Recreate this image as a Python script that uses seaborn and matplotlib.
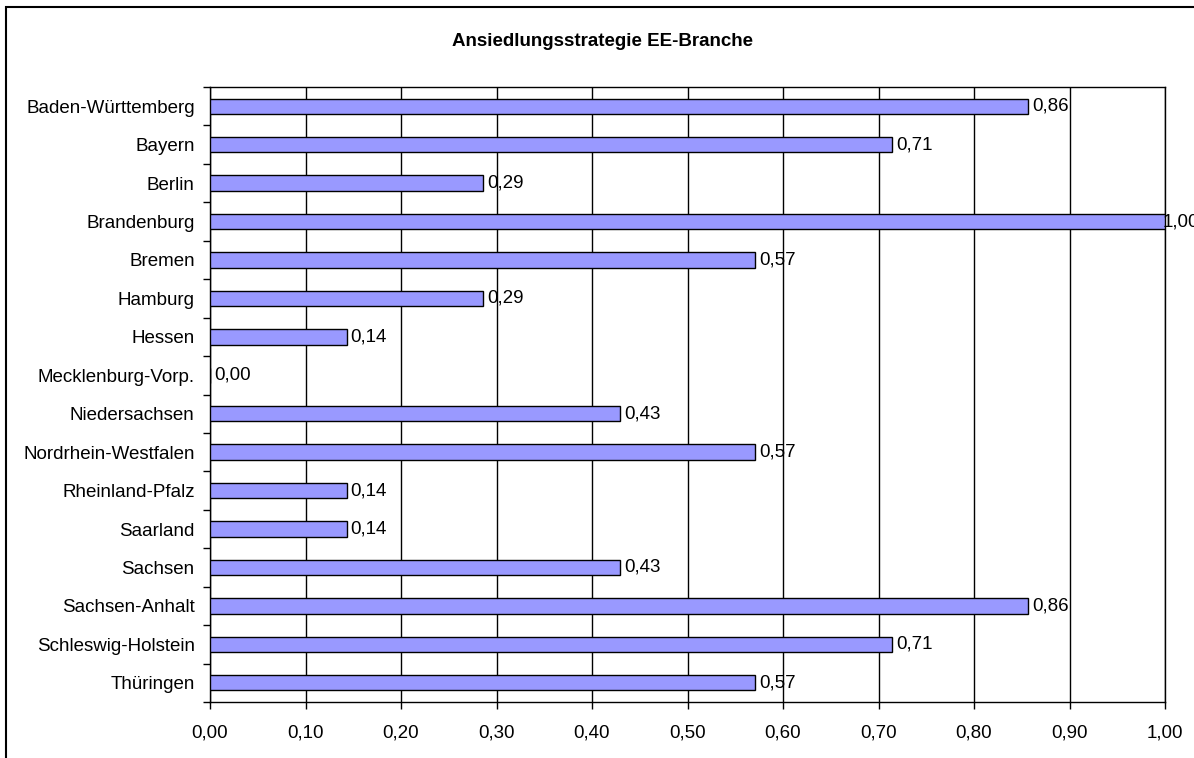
import numpy as np
import pandas as pd
import matplotlib
matplotlib.use("Agg")
import matplotlib.pyplot as plt
from matplotlib.patches import Rectangle
from matplotlib.ticker import MultipleLocator, FuncFormatter
import seaborn as sns

# Data
laender = ["Baden-Württemberg", "Bayern", "Berlin", "Brandenburg", "Bremen",
           "Hamburg", "Hessen", "Mecklenburg-Vorp.", "Niedersachsen",
           "Nordrhein-Westfalen", "Rheinland-Pfalz", "Saarland", "Sachsen",
           "Sachsen-Anhalt", "Schleswig-Holstein", "Thüringen"]
werte = [0.857, 0.714, 0.286, 1.00, 0.571, 0.286, 0.143, 0.00, 0.429,
         0.571, 0.143, 0.143, 0.429, 0.857, 0.714, 0.571]
titel = "Ansiedlungsstrategie EE-Branche"

df = pd.DataFrame({"land": laender, "wert": werte})

sns.set_style("white")
plt.rcParams["font.family"] = ["Liberation Sans", "DejaVu Sans"]
plt.rcParams["text.color"] = "black"
plt.rcParams["xtick.color"] = "black"
plt.rcParams["ytick.color"] = "black"

fig = plt.figure(figsize=(11.94, 7.58), dpi=100)
ax = fig.add_axes([210 / 1194, 1 - 702 / 758, (1165 - 210) / 1194, (702 - 87) / 758])

# Plot
sns.barplot(data=df, y="land", x="wert", orient="h", color="#9999FF",
            saturation=1, width=0.4, edgecolor="black", linewidth=1, ax=ax, zorder=3)

ax.set_xlim(0, 1)
ax.set_ylim(len(laender) - 0.5, -0.5)
ax.xaxis.set_major_locator(MultipleLocator(0.1))
ax.xaxis.set_major_formatter(FuncFormatter(lambda v, p: f"{v:.2f}".replace(".", ",")))
ax.grid(axis="x", color="black", linewidth=1, zorder=0)
ax.grid(axis="y", visible=False)
ax.set_xlabel("")
ax.set_ylabel("")

# y ticks: labels at categories, marks at the boundaries
ax.set_yticks(np.arange(len(laender)))
ax.set_yticks(np.arange(len(laender) + 1) - 0.5, minor=True)
ax.tick_params(axis="y", which="major", length=0, pad=11, labelsize=13.5, labelcolor="black")
ax.tick_params(axis="y", which="minor", length=5, width=1, color="black", direction="out", left=True)
ax.tick_params(axis="x", which="major", length=5, width=1, color="black", direction="out",
               bottom=True, pad=11, labelsize=13.5, labelcolor="black")

for s in ax.spines.values():
    s.set_color("black")
    s.set_linewidth(1)

# value labels
for i, v in enumerate(werte):
    off = -2 if v >= 1 else 3
    ax.annotate(f"{v:.2f}".replace(".", ","), xy=(v, i), xytext=(off, 0),
                textcoords="offset points", va="center", ha="left", fontsize=13.5,
                color="black", annotation_clip=False, zorder=4)

fig.text(602 / 1194, 1 - 41 / 758, titel, ha="center", va="center",
         fontsize=13.5, fontweight="bold", color="black")

# outer chart border
fig.patches.append(Rectangle((6 / 1194, -0.1), 2, 0.1 + (758 - 7) / 758, transform=fig.transFigure,
                             fill=False, edgecolor="black", linewidth=1.5))

fig.savefig("out.png", dpi=100)
